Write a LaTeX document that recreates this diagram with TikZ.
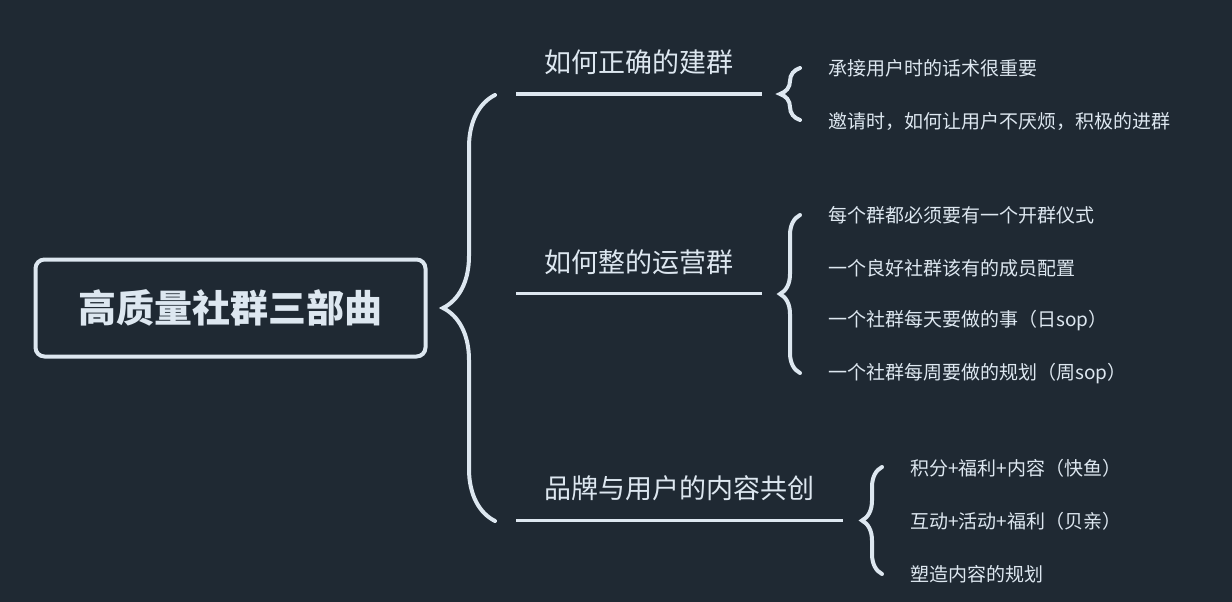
\documentclass[tikz,border=0pt]{standalone}
\usepackage{fontspec}
\setmainfont{Noto Sans CJK SC}
\usetikzlibrary{positioning, decorations.pathreplacing}
\definecolor{bg}{HTML}{1F2933}
\definecolor{ink}{HTML}{DDE7F0}

\begin{document}
\begin{tikzpicture}[
      x=1pt, y=-1pt,
      node distance=53pt,
      root/.style={rectangle, draw=ink, line width=4pt, rounded corners=9pt,
                   minimum width=390pt, minimum height=97pt, text=ink,
                   font=\fontsize{38}{38}\selectfont\bfseries},
      topic/.style={text=ink, inner sep=0pt, font=\fontsize{27}{27}\selectfont},
      leaf/.style={text=ink, inner sep=0pt, anchor=west,
                   font=\fontsize{19}{19}\selectfont},
      bar/.style={draw=ink, line width=3pt},
      curly/.style={draw=ink, line width=4pt, line cap=round, decorate,
                    decoration={brace, amplitude=#1, aspect=0.5}}
    ]

    \fill[bg] (0,0) rectangle (1232,602);
    \useasboundingbox (0,0) rectangle (1232,602);

    % root and big brace
    \node[root] (root) at (230.5,308) {高质量社群三部曲};
    \coordinate (bigtop) at (495,95);
    \coordinate (bigbot) at (495,521);
    \draw[curly=52pt] (bigbot) -- (bigtop);

    % topics
    \node[topic] (build) at (639,62) {如何正确的建群};
    \node[topic] (run) at (639,262) {如何整的运营群};
    \node[topic] (brand) at (679,488) {品牌与用户的内容共创};

    \coordinate (build-a) at (516,94);
    \coordinate (build-b) at (762,94);
    \coordinate (run-a) at (516,293);
    \coordinate (run-b) at (762,293);
    \coordinate (brand-a) at (516,520);
    \coordinate (brand-b) at (843,520);
    \draw[bar] (build-a) -- (build-b);
    \draw[bar] (run-a) -- (run-b);
    \draw[bar] (brand-a) -- (brand-b);

    % leaves
    \node[leaf] (b1) at (828,68) {承接用户时的话术很重要};
    \node[leaf, below=of b1.west, anchor=west] (b2) {邀请时，如何让用户不厌烦，积极的进群};

    \node[leaf] (r1) at (828,215) {每个群都必须要有一个开群仪式};
    \node[leaf, below=of r1.west, anchor=west] (r2) {一个良好社群该有的成员配置};
    \node[leaf, below=of r2.west, anchor=west] (r3) {一个社群每天要做的事（日sop）};
    \node[leaf, below=of r3.west, anchor=west] (r4) {一个社群每周要做的规划（周sop）};

    \node[leaf] (p1) at (910,468) {积分+福利+内容（快鱼）};
    \node[leaf, below=of p1.west, anchor=west] (p2) {互动+活动+福利（贝亲）};
    \node[leaf, below=of p2.west, anchor=west] (p3) {塑造内容的规划};

    % small braces
    \coordinate (b-top) at (800,68);
    \coordinate (b-bot) at (800,120);
    \coordinate (r-top) at (800,215);
    \coordinate (r-bot) at (800,373);
    \coordinate (p-top) at (882,467);
    \coordinate (p-bot) at (882,574);
    \draw[curly=20pt] (b-bot) -- (b-top);
    \draw[curly=20pt] (r-bot) -- (r-top);
    \draw[curly=20pt] (p-bot) -- (p-top);

  \end{tikzpicture}
\end{document}
